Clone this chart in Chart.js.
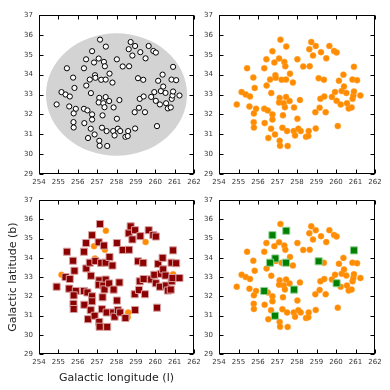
<!DOCTYPE html>
<html>
<head>
<meta charset="utf-8">
<script src="https://cdn.jsdelivr.net/npm/chart.js@4.4.1/dist/chart.umd.min.js"></script>
<style>
  body { margin: 0; background: #fff; }
  #wrap { position: relative; width: 390px; height: 390px; }
  canvas { position: absolute; }
</style>
</head>
<body>
<div id="wrap">
  <canvas id="tl"></canvas>
  <canvas id="tr"></canvas>
  <canvas id="bl"></canvas>
  <canvas id="br"></canvas>
</div>
<script>
//star positions (galactic l, b), same list in every panel
const lon = [254.91, 255.16, 255.37, 255.59, 255.44, 255.56, 255.76, 255.83, 255.90, 255.79,
             255.78, 255.79, 256.32, 256.43, 256.44, 256.32, 256.50, 256.34, 256.53, 256.62,
             256.74, 256.68, 256.74, 256.74, 256.67, 256.87, 256.84, 256.89, 256.91, 257.08,
             257.15, 257.11, 257.08, 257.21, 257.35, 257.40, 257.45, 257.44, 257.44, 257.32,
             257.38, 257.28, 257.25, 257.49, 257.11, 257.13, 257.52, 257.62, 257.64, 257.79,
             257.85, 257.83, 257.90, 258.02, 258.02, 258.07, 258.15, 258.19, 258.32, 258.46,
             258.58, 258.60, 258.65, 258.63, 258.73, 258.82, 258.96, 258.94, 258.96, 259.11,
             259.16, 259.20, 259.23, 259.38, 259.40, 259.47, 259.50, 259.66, 259.79, 259.90,
             259.95, 260.03, 260.03, 260.15, 260.09, 260.24, 260.29, 260.38, 260.41, 260.53,
             260.56, 260.65, 260.80, 260.85, 260.84, 260.92, 260.89, 260.92, 261.08, 261.25];
const lat = [32.50, 33.12, 33.00, 32.90, 34.32, 32.40, 33.85, 33.33, 32.28, 32.05,
             31.61, 31.34, 34.32, 34.77, 33.45, 32.28, 32.20, 31.56, 30.81, 33.75,
             35.18, 33.07, 32.00, 31.74, 31.28, 30.99, 34.61, 33.97, 33.84, 34.81,
             35.76, 32.83, 32.60, 33.74, 34.64, 34.42, 35.41, 33.75, 32.87, 32.56,
             32.36, 31.95, 31.33, 31.16, 30.67, 30.42, 30.41, 32.67, 34.05, 33.60,
             32.35, 31.16, 30.94, 34.77, 31.78, 31.28, 32.72, 31.16, 34.41, 30.87,
             30.91, 31.16, 34.42, 35.28, 35.64, 34.96, 35.44, 32.11, 31.29, 33.82,
             32.33, 32.78, 35.13, 33.74, 32.90, 32.11, 34.82, 35.44, 32.88, 35.19,
             33.12, 32.68, 35.11, 33.69, 31.41, 32.50, 33.17, 34.00, 33.40, 33.08,
             32.56, 32.30, 32.35, 32.78, 33.75, 34.39, 32.95, 33.15, 33.72, 32.95];

//stars left without a red square (bottom left)
const redSkip = [1, 26, 27, 35, 36, 60, 61, 76, 97];
//stars marked green (bottom right)
const greenPick = [20, 36, 27, 19, 37, 69, 95, 15, 50, 81, 25];

//axis ticks
const lonTicks = [254, 255, 256, 257, 258, 259, 260, 261, 262];
const latTicks = [29, 30, 31, 32, 33, 34, 35, 36, 37];

//grey field in the first panel: centre and half widths (l, b)
const fieldCentre = [258.0, 33.0];
const fieldRadius = [3.64, 3.08];

const FONT = "'DejaVu Sans', sans-serif";

const allPts = lon.map((l, i) => ({x: l, y: lat[i]}));
const redPts = allPts.filter((p, i) => redSkip.indexOf(i) < 0);
const greenPts = greenPick.map(i => allPts[i]);

//draw frame and inward ticks on all four sides
const framePlugin = {
  id: 'frame',
  afterDatasetsDraw(chart) {
    const ctx = chart.ctx;
    const a = chart.chartArea;
    const sx = chart.scales.x, sy = chart.scales.y;
    const L = Math.round(a.left) + 0.5, R = Math.round(a.right) - 0.5;
    const T = Math.round(a.top) + 0.5, B = Math.round(a.bottom) - 0.5;
    ctx.save();
    ctx.strokeStyle = '#000';
    ctx.lineWidth = 1;
    ctx.beginPath();
    lonTicks.forEach(v => {
      const px = Math.round(sx.getPixelForValue(v)) + 0.5;
      ctx.moveTo(px, B); ctx.lineTo(px, B - 4);
      ctx.moveTo(px, T); ctx.lineTo(px, T + 4);
    });
    latTicks.forEach(v => {
      const py = Math.round(sy.getPixelForValue(v)) + 0.5;
      ctx.moveTo(L, py); ctx.lineTo(L + 4, py);
      ctx.moveTo(R, py); ctx.lineTo(R - 4, py);
    });
    ctx.stroke();
    ctx.strokeRect(L, T, R - L, B - T);
    ctx.restore();
  }
};

const fieldPlugin = {
  id: 'field',
  beforeDatasetsDraw(chart) {
    const ctx = chart.ctx;
    const sx = chart.scales.x, sy = chart.scales.y;
    const cx = sx.getPixelForValue(fieldCentre[0]);
    const cy = sy.getPixelForValue(fieldCentre[1]);
    const rx = sx.getPixelForValue(fieldCentre[0] + fieldRadius[0]) - cx;
    const ry = cy - sy.getPixelForValue(fieldCentre[1] + fieldRadius[1]);
    ctx.save();
    ctx.fillStyle = '#d3d3d3';
    ctx.beginPath();
    ctx.ellipse(cx, cy, rx, ry, 0, 0, Math.PI * 2);
    ctx.fill();
    ctx.restore();
  }
};

function orangeSet() {
  return {
    data: allPts, pointStyle: 'circle', pointRadius: 3,
    backgroundColor: '#ff8c00', borderColor: '#ffa030', borderWidth: 0.5
  };
}

function makePanel(id, box, datasets, extra) {
  const cv = document.getElementById(id);
  cv.width = box.w; cv.height = box.h;
  cv.style.left = box.left + 'px'; cv.style.top = box.top + 'px';
  cv.style.width = box.w + 'px'; cv.style.height = box.h + 'px';
  const plugins = [framePlugin];
  if (extra.field) plugins.unshift(fieldPlugin);
  return new Chart(cv, {
    type: 'scatter',
    data: { datasets: datasets },
    plugins: plugins,
    options: {
      responsive: false,
      animation: false,
      events: [],
      layout: { autoPadding: false, padding: { top: box.pt, right: box.pr, left: 0, bottom: 0 } },
      plugins: { legend: { display: false }, tooltip: { enabled: false } },
      scales: {
        x: {
          type: 'linear', min: 254, max: 262,
          afterBuildTicks: s => { s.ticks = lonTicks.map(v => ({value: v})); },
          ticks: { font: { family: FONT, size: 7 }, color: '#333', padding: 4, maxRotation: 0, autoSkip: false },
          grid: { display: false, drawTicks: false },
          border: { display: false },
          title: { display: !!extra.xTitle, text: 'Galactic longitude (l)', color: '#222',
                   font: { family: FONT, size: 11 }, padding: { top: 0, bottom: 5 } },
          afterFit: s => { s.height = box.xh; }
        },
        y: {
          type: 'linear', min: 29, max: 37,
          afterBuildTicks: s => { s.ticks = latTicks.map(v => ({value: v})); },
          ticks: { font: { family: FONT, size: 7 }, color: '#333', padding: 6, autoSkip: false },
          grid: { display: false, drawTicks: false },
          border: { display: false },
          title: { display: !!extra.yTitle, text: 'Galactic latitude (b)', color: '#222',
                   font: { family: FONT, size: 11 }, padding: { top: 7, bottom: 0 } },
          afterFit: s => { s.width = box.yw; }
        }
      }
    }
  });
}

//top left: white circles on grey field
makePanel('tl', {left: 0, top: 0, w: 210, h: 195, pt: 15, pr: 16, xh: 21, yw: 39}, [
  { data: allPts, pointStyle: 'circle', pointRadius: 2.6,
    backgroundColor: '#fff', borderColor: '#000', borderWidth: 1 }
], {field: true});

//top right: all stars orange
makePanel('tr', {left: 195, top: 0, w: 195, h: 195, pt: 15, pr: 15, xh: 21, yw: 24}, [
  orangeSet()
], {});

//bottom left: red squares over orange
makePanel('bl', {left: 0, top: 190, w: 210, h: 200, pt: 5, pr: 16, xh: 36, yw: 39}, [
  { data: redPts, pointStyle: 'rect', pointRadius: 5,
    backgroundColor: '#8b0000', borderColor: '#d8a0a0', borderWidth: 1 },
  orangeSet()
], {xTitle: true, yTitle: true});

//bottom right: green squares over orange
makePanel('br', {left: 195, top: 190, w: 195, h: 200, pt: 5, pr: 15, xh: 36, yw: 24}, [
  { data: greenPts, pointStyle: 'rect', pointRadius: 5,
    backgroundColor: '#008000', borderColor: '#90d090', borderWidth: 1 },
  orangeSet()
], {});
</script>
</body>
</html>
